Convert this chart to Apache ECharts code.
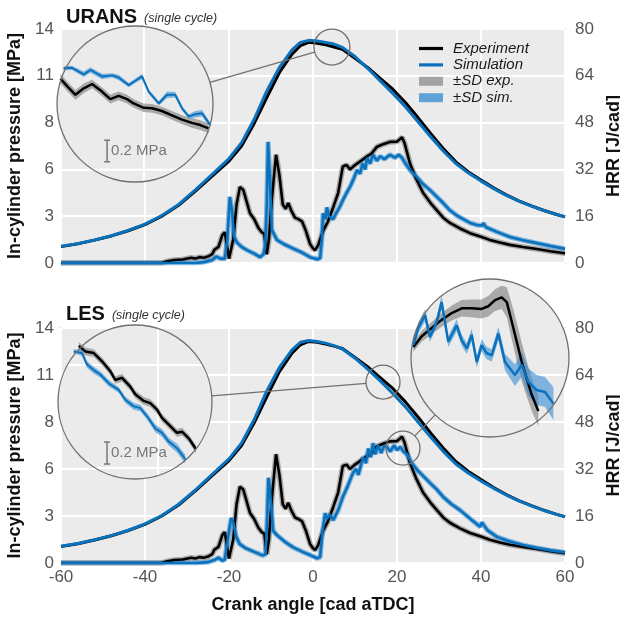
<!DOCTYPE html>
<html>
<head>
<meta charset="utf-8">
<script src="https://cdn.jsdelivr.net/npm/echarts@6/dist/echarts.min.js"></script>
<style>
  html, body { margin: 0; padding: 0; background: #fff; }
  #chart { width: 620px; height: 618px; }
</style>
</head>
<body>
<div id="chart"></div>
<script>
// ---- cylinder pressure [MPa] ----
const pCrank = [-60, -56, -52, -48, -44, -40, -36, -32, -28, -24, -20, -17, -14, -11, -8, -5, -3, -1, 1, 3, 5, 7, 10, 13, 16, 19, 22, 25, 28, 31, 34, 37, 40, 43, 46, 49, 52, 55, 58, 60];
const pExp = [0.98, 1.15, 1.37, 1.62, 1.93, 2.3, 2.8, 3.45, 4.3, 5.2, 6.1, 7.0, 8.35, 9.9, 11.4, 12.5, 13.0, 13.2, 13.15, 13.05, 12.92, 12.78, 12.25, 11.7, 11.05, 10.4, 9.6, 8.7, 7.75, 6.85, 6.05, 5.45, 4.97, 4.5, 4.08, 3.72, 3.42, 3.14, 2.9, 2.76];
const pSimUrans = [1.0, 1.16, 1.38, 1.63, 1.95, 2.33, 2.84, 3.5, 4.37, 5.3, 6.25, 7.2, 8.6, 10.3, 11.7, 12.75, 13.2, 13.32, 13.28, 13.2, 13.1, 12.9, 12.35, 11.65, 10.9, 10.15, 9.35, 8.45, 7.55, 6.7, 5.95, 5.38, 4.9, 4.45, 4.05, 3.7, 3.4, 3.13, 2.9, 2.77];
const pSimLes = [1.0, 1.16, 1.38, 1.63, 1.95, 2.33, 2.83, 3.5, 4.35, 5.28, 6.2, 7.15, 8.55, 10.25, 11.65, 12.7, 13.15, 13.25, 13.2, 13.1, 12.95, 12.75, 12.2, 11.55, 10.85, 10.1, 9.3, 8.4, 7.5, 6.65, 5.9, 5.35, 4.88, 4.45, 4.05, 3.7, 3.4, 3.13, 2.9, 2.75];

// ---- heat release rate [J/cad] ----
const hrrExpCrank = [-60, -36, -35, -33, -31, -29, -28, -27, -26, -25, -24, -23.5, -22.5, -21.6, -21, -20.5, -20, -19.6, -19, -18.2, -17.4, -16.6, -16, -15, -14, -13, -12.2, -11.6, -11, -10.5, -9.8, -8.8, -8, -7.2, -6.5, -5.9, -5.2, -4.3, -3.5, -2.6, -1.7, -0.7, 0, 0.5, 1.2, 2.4, 3.5, 4.8, 6, 7.1, 8, 8.8, 10, 11.5, 12.9, 14, 15.2, 16.5, 18.3, 20, 21.2, 21.8, 23.1, 24.5, 26.2, 28, 29.5, 31, 32.6, 35, 37.4, 40, 42.1, 44.5, 46.9, 50, 53.3, 56.5, 59.5, 60];
const hrrExp = [0, 0, 0.5, 1.0, 1.2, 1.8, 1.5, 2.0, 1.8, 2.2, 3.0, 4.5, 5.5, 9.5, 10.5, 6, 1.5, 1.0, 8, 20, 26, 25, 22, 17, 15, 12, 10.5, 10, 3.0, 8, 22, 37, 30, 20, 18.5, 20.5, 18, 15.5, 15.0, 14.2, 11, 6.5, 5, 4.4, 6, 11, 14, 19, 24, 33, 33.5, 32, 33.5, 35, 36.5, 37.5, 39.7, 40.5, 41.4, 41.5, 43, 41, 34, 29, 24, 20.5, 18, 15.5, 13.7, 11.8, 10.2, 9.0, 7.9, 7.0, 6.2, 5.5, 4.8, 4.0, 3.4, 3.3];

const hrrSimUransCrank = [-60, -28, -26, -24, -23, -22, -21, -20.4, -19.8, -19.3, -18.8, -18.1, -17, -15.7, -14, -12.6, -11.8, -11.4, -11, -10.7, -10.3, -9.8, -8.6, -7, -4.8, -2.5, -0.7, 1, 1.7, 2.1, 2.4, 3, 3.3, 3.8, 4.8, 5.5, 6.3, 7.1, 8, 8.8, 9.6, 10.5, 11.2, 11.8, 12.4, 12.9, 13.6, 14.3, 15.2, 16, 17, 18.3, 19.5, 20.4, 21.2, 22, 23.1, 24.6, 26.2, 27.8, 29.5, 31, 32.6, 34.5, 36, 37.4, 39, 40.3, 40.6, 41.2, 43.5, 46.9, 50, 53.3, 56.5, 59.5, 60];
const hrrSimUrans = [0, 0, 0.3, 1.0, 2.2, 1.5, 1.5, 8, 22.6, 18, 9, 7, 5.5, 4.4, 3.2, 2.0, 3, 5.5, 20, 41.4, 30, 11.3, 7.9, 6.5, 5, 3.5, 2, 1.3, 1.7, 8, 17, 15, 19, 16, 15, 17, 19, 21.5, 24, 26, 28.5, 31.8, 30.5, 34, 32, 36, 34, 37, 35, 36.5, 35.5, 37, 36, 37, 36, 34, 31.8, 29.5, 27, 25, 22.6, 20.5, 18, 16, 14.8, 13.7, 13, 12.8, 13.6, 12.2, 10.8, 8.9, 7.8, 6.8, 5.8, 5.0, 4.9];

const hrrSimLesCrank = [-60, -28, -25, -23.5, -22.5, -21.6, -21, -20.3, -19.5, -19, -18.3, -17.5, -16, -14, -12, -11.3, -11, -10.6, -10.2, -9.5, -8.6, -6.5, -4.8, -2.5, -0.7, 1, 1.7, 2.2, 2.9, 3.3, 4, 4.8, 6, 7.1, 8.2, 9.5, 10.3, 10.8, 11.9, 12.6, 13.2, 13.7, 14.3, 14.8, 15.5, 16.2, 17, 17.6, 18.4, 19.3, 20, 20.8, 21.5, 22.4, 23.5, 24.8, 26.3, 27.9, 29.5, 31, 33, 35, 37.5, 39.8, 40.2, 40.6, 41.5, 43.8, 46.5, 50, 53.3, 56.5, 59.5, 60];
const hrrSimLes = [0, 0, 0.3, 1.0, 1.8, 0.8, 1.2, 8, 15.3, 14, 9, 6.5, 5, 3.8, 2.6, 3.0, 12, 29, 24, 11, 9.5, 7, 5.4, 3.8, 2.7, 1.6, 2, 10, 17, 15, 16.5, 14.6, 18, 22.5, 26, 30.6, 32, 30, 36, 34, 39, 36, 40.8, 37, 40, 37.5, 40, 39.5, 38, 40, 38.5, 39.5, 38, 37, 34, 31.7, 29.5, 27.2, 25, 22.5, 20, 18, 15, 12.3, 13.8, 13.0, 11.2, 8.9, 7.5, 6.1, 5.1, 4.3, 3.7, 3.6];

// ---- zoom insets ----
// URANS pressure, around TDC
const insUCrankExp = [0.52, 0.87, 1.31, 1.75, 2.19, 2.71, 3.15, 3.59, 4.03, 4.38, 4.91, 5.35, 5.87, 6.40, 6.93, 7.45, 7.89, 8.33];
const insUExp = [13.15, 13.08, 13.0, 13.06, 13.10, 13.03, 12.96, 12.99, 12.96, 12.92, 12.88, 12.875, 12.85, 12.81, 12.77, 12.74, 12.72, 12.69];
const insUExpSd = [0.045, 0.045, 0.045, 0.045, 0.04, 0.04, 0.04, 0.04, 0.04, 0.04, 0.04, 0.04, 0.04, 0.04, 0.04, 0.045, 0.045, 0.045];
const insUCrankSim = [0.69, 1.13, 1.75, 2.10, 2.71, 3.24, 3.59, 4.12, 4.47, 4.82, 5.17, 5.70, 6.14, 6.57, 6.93, 7.28, 7.63, 7.98, 8.42];
const insUSim = [13.245, 13.25, 13.19, 13.23, 13.17, 13.18, 13.16, 13.09, 13.13, 13.17, 13.03, 12.92, 13.0, 13.0, 12.875, 12.80, 12.82, 12.83, 12.72];
const insUSimSd = [0.02, 0.02, 0.025, 0.025, 0.025, 0.02, 0.025, 0.02, 0.02, 0.025, 0.02, 0.02, 0.03, 0.025, 0.02, 0.02, 0.03, 0.03, 0.02];
const insUGridX = [4.92];
const insUGridY = [12.307];

// LES pressure, expansion
const insLCrankExp = [13.68, 14.02, 14.46, 14.89, 15.32, 15.58, 15.93, 16.36, 16.62, 17.06, 17.40, 17.75, 18.01, 18.44, 18.79, 19.05, 19.40, 19.78];
const insLExp = [11.29, 11.24, 11.225, 11.15, 11.06, 10.98, 11.0, 10.92, 10.85, 10.79, 10.77, 10.71, 10.635, 10.56, 10.50, 10.51, 10.45, 10.35];
const insLExpSd = [0.035, 0.035, 0.035, 0.035, 0.035, 0.035, 0.035, 0.035, 0.035, 0.035, 0.035, 0.035, 0.035, 0.035, 0.035, 0.035, 0.035, 0.035];
const insLCrankSim = [13.42, 13.85, 14.11, 14.46, 14.80, 15.24, 15.76, 16.10, 16.54, 16.88, 17.23, 17.66, 18.01, 18.36, 18.79, 19.22];
const insLSim = [11.24, 11.225, 11.12, 11.07, 11.03, 10.95, 10.89, 10.80, 10.74, 10.725, 10.65, 10.54, 10.50, 10.42, 10.36, 10.26];
const insLSimSd = [0.02, 0.025, 0.03, 0.03, 0.03, 0.03, 0.025, 0.03, 0.03, 0.03, 0.03, 0.035, 0.035, 0.035, 0.04, 0.04];
const insLGridX = [17.8];
const insLGridY = [11.116, 10.18];

// LES HRR, end of main combustion
const insHCrankExp = [17.52, 17.95, 18.46, 18.97, 19.49, 20.0, 20.51, 21.02, 21.36, 21.71, 22.05, 22.31, 22.56, 22.82, 23.08, 23.33, 23.59, 23.93];
const insHExp = [39.9, 40.7, 41.3, 41.9, 42.4, 42.75, 42.75, 42.7, 42.9, 43.35, 43.55, 43.2, 41.8, 40.3, 38.8, 37.6, 36.4, 35.2];
const insHExpSd = [0.35, 0.4, 0.45, 0.5, 0.55, 0.6, 0.65, 0.7, 0.75, 0.8, 0.85, 1.1, 1.3, 1.4, 1.4, 1.3, 1.2, 1.1];
const insHCrankSim = [17.52, 17.77, 18.12, 18.37, 18.72, 18.97, 19.31, 19.74, 20.0, 20.26, 20.51, 20.77, 21.02, 21.28, 21.54, 21.88, 22.22, 22.73, 23.08, 23.41, 23.84, 24.27, 24.70];
const insHSim = [40.05, 41.3, 42.25, 40.65, 41.75, 43.2, 40.3, 41.5, 40.4, 39.8, 40.8, 38.8, 40.05, 39.45, 39.3, 40.9, 38.8, 37.85, 38.6, 37.35, 36.75, 36.6, 35.75];
const insHSimSd = [0.3, 0.4, 0.45, 0.35, 0.4, 0.5, 0.4, 0.45, 0.4, 0.4, 0.45, 0.4, 0.45, 0.45, 0.45, 0.5, 0.6, 0.8, 0.9, 1.0, 1.1, 1.1, 1.2];
const insHGridX = [20.99];
const insHGridY = [37.85, 34.4];

// layout of the magnifier circles (px), and the spots they magnify (data coords)
const insets = [
    { cx: 135, cy: 104, r: 78 },
    { cx: 135, cy: 402, r: 77 },
    { cx: 490, cy: 358, r: 79 }
];
const spots = [
    { xAxisIndex: 0, yAxisIndex: 0, at: [4.5, 12.92], r: 18 },
    { xAxisIndex: 1, yAxisIndex: 2, at: [16.67, 10.78], r: 17 },
    { xAxisIndex: 1, yAxisIndex: 3, at: [21.43, 39.1], r: 17 }
];
const insetGridLines = [
    { xAxisIndex: 2, yAxisIndex: 4, xs: insUGridX, ys: insUGridY },
    { xAxisIndex: 3, yAxisIndex: 5, xs: insLGridX, ys: insLGridY },
    { xAxisIndex: 4, yAxisIndex: 6, xs: insHGridX, ys: insHGridY }
];

const FONT = '"Liberation Sans", Arial, Helvetica, sans-serif';
const BLUE = '#0a72bd';
const SD_EXP = 'rgba(125,125,125,0.6)';
const SD_SIM = 'rgba(55,140,210,0.6)';
const FRAME = '#d3d3d3';
const BG = '#ebebeb';

const pts = (xs, ys) => xs.map((x, i) => [x, ys[i]]);

function line(name, xs, ys, xi, yi, color, width, z) {
    return {
        name: name, type: 'line', xAxisIndex: xi, yAxisIndex: yi,
        data: pts(xs, ys), symbol: 'none', showSymbol: false,
        lineStyle: { color: color, width: width }, itemStyle: { color: color },
        z: z, animation: false
    };
}

// ±SD band as one polygon, mapped through the axes with api.coord
function band(xs, ys, sd, xi, yi, color) {
    const upper = ys.map((v, i) => v + sd[i]);
    const lower = ys.map((v, i) => v - sd[i]);
    return {
        type: 'custom', xAxisIndex: xi, yAxisIndex: yi, clip: true, z: 5, animation: false,
        silent: true, data: pts(xs, ys),
        renderItem: function (params, api) {
            if (params.dataIndex !== 0) return null;
            const top = xs.map((x, i) => api.coord([x, upper[i]]));
            const bot = xs.map((x, i) => api.coord([x, lower[i]])).reverse();
            return { type: 'polygon', shape: { points: top.concat(bot) }, style: { fill: color } };
        }
    };
}

const nameStyle = { fontSize: 18, fontWeight: 'bold', color: '#111', fontFamily: FONT };

function mainX(grid, labels) {
    return {
        type: 'value', gridIndex: grid, min: -60, max: 60, interval: 20,
        axisLine: { show: false }, axisTick: { show: false },
        axisLabel: { show: labels, fontSize: 17, color: '#555', fontFamily: FONT, margin: 6 },
        splitLine: { show: true, lineStyle: { color: '#fff', width: 2 } },
        name: labels ? 'Crank angle [cad aTDC]' : '', nameLocation: 'middle', nameGap: 33,
        nameTextStyle: nameStyle
    };
}

function pressureY(grid) {
    return {
        type: 'value', gridIndex: grid, position: 'left', min: 0, max: 14, interval: 2.8,
        axisLine: { show: false }, axisTick: { show: false },
        axisLabel: { fontSize: 17, color: '#555', fontFamily: FONT, margin: 7, formatter: v => Math.round(v) },
        splitLine: { show: true, lineStyle: { color: '#fff', width: 2 } },
        name: 'In-cylinder pressure [MPa]', nameLocation: 'middle', nameGap: 35, nameRotate: 90,
        nameTextStyle: nameStyle
    };
}

function hrrY(grid) {
    return {
        type: 'value', gridIndex: grid, position: 'right', min: 0, max: 80, interval: 16, z: 10,
        axisLine: { show: false }, axisTick: { show: false },
        axisLabel: { fontSize: 17, color: '#555', fontFamily: FONT, margin: 10 },
        splitLine: { show: false },
        name: 'HRR [J/cad]', nameLocation: 'middle', nameGap: 38, nameRotate: 90,
        nameTextStyle: nameStyle
    };
}

function insetAxis(grid, min, max) {
    return { type: 'value', gridIndex: grid, min: min, max: max, show: false, splitLine: { show: false } };
}

const chart = echarts.init(document.getElementById('chart'));

const series = [
    // URANS panel
    line('±SD exp.', hrrExpCrank, hrrExp, 0, 1, SD_EXP, 5.5, 2),
    line('±SD sim.', hrrSimUransCrank, hrrSimUrans, 0, 1, SD_SIM, 5, 2),
    line('Experiment', pCrank, pExp, 0, 0, '#000', 3, 3),
    line('Experiment', hrrExpCrank, hrrExp, 0, 1, '#000', 2.6, 3),
    line('Simulation', pCrank, pSimUrans, 0, 0, BLUE, 3, 4),
    line('Simulation', hrrSimUransCrank, hrrSimUrans, 0, 1, BLUE, 2.6, 4),
    // LES panel
    line('±SD exp.', hrrExpCrank, hrrExp, 1, 3, SD_EXP, 5.5, 2),
    line('±SD sim.', hrrSimLesCrank, hrrSimLes, 1, 3, SD_SIM, 5, 2),
    line('Experiment', pCrank, pExp, 1, 2, '#000', 3, 3),
    line('Experiment', hrrExpCrank, hrrExp, 1, 3, '#000', 2.6, 3),
    line('Simulation', pCrank, pSimLes, 1, 2, BLUE, 3, 4),
    line('Simulation', hrrSimLesCrank, hrrSimLes, 1, 3, BLUE, 2.6, 4),
    // insets
    band(insUCrankExp, insUExp, insUExpSd, 2, 4, SD_EXP),
    band(insUCrankSim, insUSim, insUSimSd, 2, 4, SD_SIM),
    line('insU-exp', insUCrankExp, insUExp, 2, 4, '#000', 2.5, 6),
    line('insU-sim', insUCrankSim, insUSim, 2, 4, BLUE, 2, 6),
    band(insLCrankExp, insLExp, insLExpSd, 3, 5, SD_EXP),
    band(insLCrankSim, insLSim, insLSimSd, 3, 5, SD_SIM),
    line('insL-exp', insLCrankExp, insLExp, 3, 5, '#000', 2.5, 6),
    line('insL-sim', insLCrankSim, insLSim, 3, 5, BLUE, 2, 6),
    band(insHCrankExp, insHExp, insHExpSd, 4, 6, SD_EXP),
    band(insHCrankSim, insHSim, insHSimSd, 4, 6, SD_SIM),
    line('insH-exp', insHCrankExp, insHExp, 4, 6, '#000', 2.5, 6),
    line('insH-sim', insHCrankSim, insHSim, 4, 6, BLUE, 2.5, 6)
];

const titleRich = {
    a: { fontSize: 20, fontWeight: 'bold', color: '#111', fontFamily: FONT },
    b: { fontSize: 12.5, fontWeight: 'normal', fontStyle: 'italic', color: '#333', fontFamily: FONT, padding: [4, 0, 0, 2] }
};

const gridBase = { show: true, backgroundColor: BG, borderColor: FRAME, borderWidth: 2, containLabel: false, outerBoundsMode: 'none' };

const option = {
    animation: false,
    backgroundColor: '#fff',
    textStyle: { fontFamily: FONT },
    title: [
        { text: '{a|URANS} {b|(single cycle)}', left: 61, top: 2, textStyle: { rich: titleRich } },
        { text: '{a|LES} {b|(single cycle)}', left: 61, top: 299, textStyle: { rich: titleRich } }
    ],
    legend: {
        orient: 'vertical', left: 414, top: 36,
        itemWidth: 24, itemHeight: 12, itemGap: 1.4, symbolKeepAspect: true,
        textStyle: { fontSize: 15, fontStyle: 'italic', color: '#1a1a1a', fontFamily: FONT, lineHeight: 15, padding: [0, 0, 0, 5] },
        data: [
            { name: 'Experiment', icon: 'path://M0,0H24V3.2H0Z', itemStyle: { color: '#000' } },
            { name: 'Simulation', icon: 'path://M0,0H24V3.2H0Z', itemStyle: { color: BLUE } },
            { name: '±SD exp.', icon: 'path://M0,0H24V9H0Z', itemStyle: { color: '#a3a3a3' } },
            { name: '±SD sim.', icon: 'path://M0,0H24V9H0Z', itemStyle: { color: '#5fa2d6' } }
        ]
    },
    grid: [
        Object.assign({ left: 61, top: 29, width: 504, height: 234 }, gridBase),
        Object.assign({ left: 61, top: 328, width: 504, height: 235 }, gridBase)
    ].concat(insets.map(c => ({ left: c.cx - c.r, top: c.cy - c.r, width: 2 * c.r, height: 2 * c.r, show: false, outerBoundsMode: 'none' }))),
    xAxis: [
        mainX(0, false), mainX(1, true),
        insetAxis(2, 0.34, 8.56), insetAxis(3, 12.6, 20.61), insetAxis(4, 17.4, 25.5)
    ],
    yAxis: [
        pressureY(0), hrrY(0), pressureY(1), hrrY(1),
        insetAxis(2, 12.193, 13.637), insetAxis(3, 10.08, 11.48), insetAxis(4, 33.3, 44.9)
    ],
    series: series
};

chart.setOption(option);

// magnifier circles, their own grid lines, connector lines and the 0.2 MPa scale bars
const graphics = [];
const CIRCLE = '#707070';
insets.forEach((c, i) => {
    graphics.push({ type: 'circle', z: 1, silent: true, shape: { cx: c.cx, cy: c.cy, r: c.r }, style: { fill: BG, stroke: null } });
    graphics.push({ type: 'circle', z: 100, silent: true, shape: { cx: c.cx, cy: c.cy, r: c.r }, style: { fill: null, stroke: CIRCLE, lineWidth: 1.3 } });

    const g = insetGridLines[i];
    g.xs.forEach(v => {
        const px = chart.convertToPixel({ xAxisIndex: g.xAxisIndex, yAxisIndex: g.yAxisIndex }, [v, 0])[0];
        const h = Math.sqrt(Math.max(0, c.r * c.r - (px - c.cx) * (px - c.cx)));
        graphics.push({ type: 'line', z: 1.5, silent: true, shape: { x1: px, y1: c.cy - h, x2: px, y2: c.cy + h }, style: { stroke: '#fff', lineWidth: 2 } });
    });
    g.ys.forEach(v => {
        const py = chart.convertToPixel({ xAxisIndex: g.xAxisIndex, yAxisIndex: g.yAxisIndex }, [0, v])[1];
        const w = Math.sqrt(Math.max(0, c.r * c.r - (py - c.cy) * (py - c.cy)));
        graphics.push({ type: 'line', z: 1.5, silent: true, shape: { x1: c.cx - w, y1: py, x2: c.cx + w, y2: py }, style: { stroke: '#fff', lineWidth: 2 } });
    });

    const s = spots[i];
    const p = chart.convertToPixel({ xAxisIndex: s.xAxisIndex, yAxisIndex: s.yAxisIndex }, s.at);
    graphics.push({ type: 'circle', z: 100, silent: true, shape: { cx: p[0], cy: p[1], r: s.r }, style: { fill: null, stroke: CIRCLE, lineWidth: 1.3 } });
    const dx = c.cx - p[0], dy = c.cy - p[1];
    const d = Math.sqrt(dx * dx + dy * dy);
    graphics.push({ type: 'line', z: 100, silent: true,
        shape: { x1: p[0] + dx / d * s.r, y1: p[1] + dy / d * s.r, x2: c.cx - dx / d * c.r, y2: c.cy - dy / d * c.r },
        style: { stroke: CIRCLE, lineWidth: 1.2 } });
});

const scaleBars = [
    { xAxisIndex: 2, yAxisIndex: 4, x: 2.98, from: 12.38, to: 12.58 },
    { xAxisIndex: 3, yAxisIndex: 5, x: 15.15, from: 10.216, to: 10.416 }
];
scaleBars.forEach(b => {
    const a = chart.convertToPixel({ xAxisIndex: b.xAxisIndex, yAxisIndex: b.yAxisIndex }, [b.x, b.from]);
    const t = chart.convertToPixel({ xAxisIndex: b.xAxisIndex, yAxisIndex: b.yAxisIndex }, [b.x, b.to]);
    const st = { stroke: '#777', lineWidth: 1.5 };
    graphics.push({ type: 'line', z: 100, silent: true, shape: { x1: a[0], y1: a[1], x2: t[0], y2: t[1] }, style: st });
    graphics.push({ type: 'line', z: 100, silent: true, shape: { x1: a[0] - 3, y1: a[1], x2: a[0] + 3, y2: a[1] }, style: st });
    graphics.push({ type: 'line', z: 100, silent: true, shape: { x1: t[0] - 3, y1: t[1], x2: t[0] + 3, y2: t[1] }, style: st });
    graphics.push({ type: 'text', z: 100, silent: true, x: a[0] + 4, y: (a[1] + t[1]) / 2,
        style: { text: '0.2 MPa', fill: '#777', fontSize: 15, fontFamily: FONT, verticalAlign: 'middle' } });
});

chart.setOption({ graphic: graphics });
</script>
</body>
</html>
